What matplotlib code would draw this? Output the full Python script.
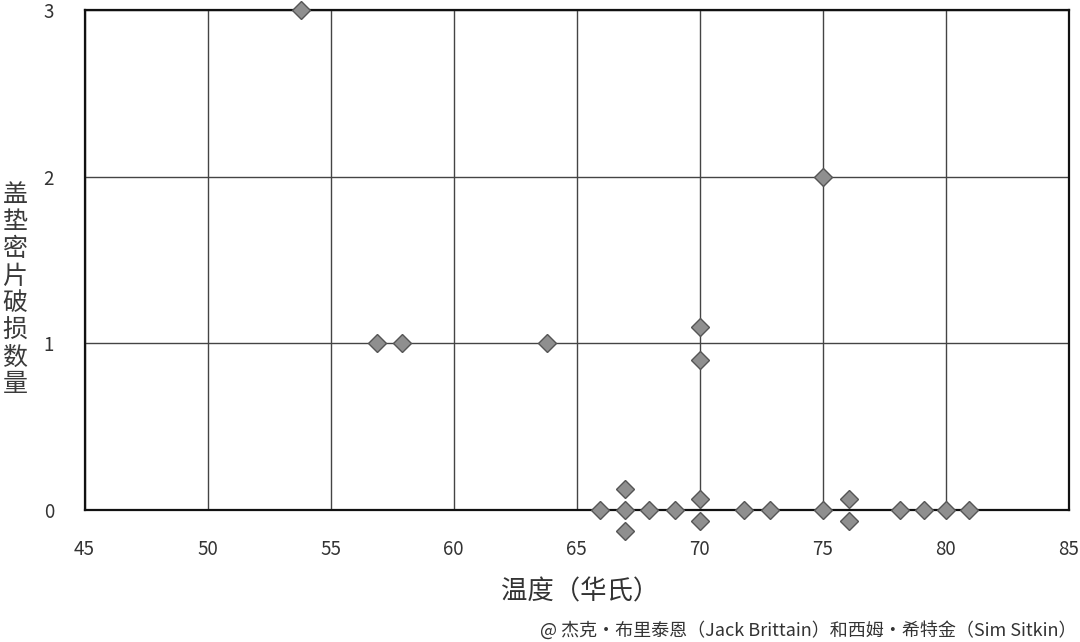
import matplotlib
matplotlib.use("Agg")
import matplotlib.pyplot as plt

plt.rcParams['font.family'] = ['Noto Sans CJK SC', 'DejaVu Sans']

# Data (temperature in °F, number of damaged O-rings; small offsets show overlapping points)
temps = [53.8, 56.9, 57.9, 63.8, 65.95, 66.95, 66.95, 66.95, 67.95, 69.0,
         70, 70, 70, 70, 71.8, 72.85, 75, 75, 76.05, 76.05, 78.15, 79.1, 80, 80.95]
damage = [3, 1, 1, 1, 0, 0.125, 0, -0.125, 0, 0, 1.1, 0.9, 0.065, -0.065,
          0, 0, 2, 0, 0.065, -0.065, 0, 0, 0, 0]

x_ticks = [45, 50, 55, 60, 65, 70, 75, 80, 85]
y_ticks = [0, 1, 2, 3]
x_label = "温度（华氏）"
y_label = "盖垫密片破损数量"
credit = "@ 杰克・布里泰恩（Jack Brittain）和西姆・希特金（Sim Sitkin）"

fig = plt.figure(figsize=(10.8, 6.42), dpi=100)
ax = fig.add_axes([84.5/1080, 1 - 510/642, 984.5/1080, 500/642])

ax.set_xlim(45, 85)
ax.set_ylim(0, 3)
ax.set_xticks(x_ticks)
ax.set_yticks(y_ticks)
ax.grid(True, color='#444444', linewidth=1.0)
ax.set_axisbelow(True)
for s in ax.spines.values():
    s.set_color('#111111')
    s.set_linewidth(1.6)
ax.tick_params(length=0, labelsize=13.5, labelcolor='#333333')
ax.tick_params(axis='x', pad=21)
ax.tick_params(axis='y', pad=22)

ax.plot(temps, damage, linestyle='none', marker='D', markersize=9.5,
        markerfacecolor='#8f8f8f', markeredgecolor='#555555',
        markeredgewidth=1.0, clip_on=False, zorder=5)

fig.text(580/1080, 1 - 592/642, x_label, ha='center', va='center',
         fontsize=19, color='#333333')
fig.text(15/1080, 1 - 290/642, "\n".join(y_label), ha='center', va='center',
         fontsize=18, color='#3a3a3a', linespacing=1.05)
fig.text(1076/1080, 1 - 630/642, credit, ha='right', va='center',
         fontsize=13, color='#333333')

fig.savefig("out.png", dpi=100)
